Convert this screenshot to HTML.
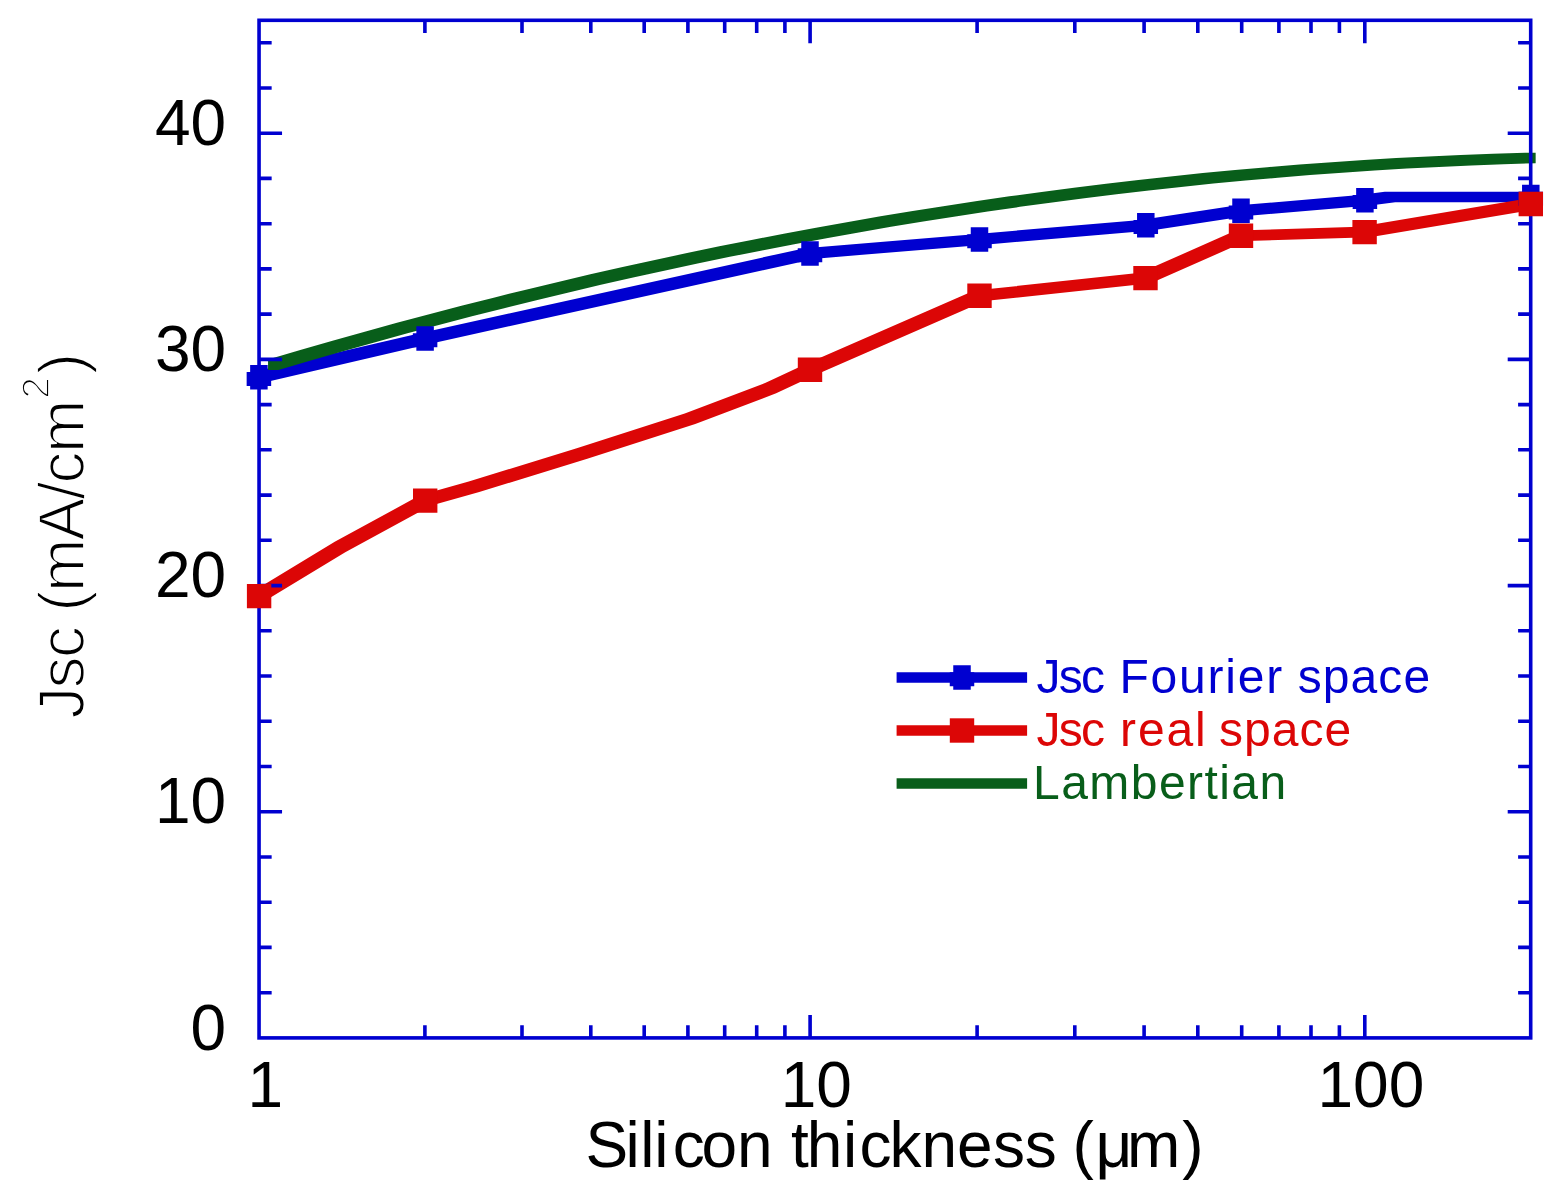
<!DOCTYPE html>
<html><head><meta charset="utf-8"><title>Jsc vs silicon thickness</title>
<style>html,body{margin:0;padding:0;background:#fff;width:1556px;height:1202px;overflow:hidden}svg{display:block}text{font-family:"Liberation Sans",Arial,sans-serif}</style>
</head><body>
<svg width="1556" height="1202" viewBox="0 0 1556 1202">
<rect width="1556" height="1202" fill="#fff"/>
<path d="M253.65 371.95L419.85 333.15L430.35 333.15L430.35 343.65L264.15 382.45L253.65 382.45ZM419.85 333.15L804.75 248.15L815.25 248.15L815.25 258.65L430.35 343.65L419.85 343.65ZM804.75 248.15L974.25 234.15L984.75 234.15L984.75 244.65L815.25 258.65L804.75 258.65ZM974.25 234.15L1140.55 219.95L1151.05 219.95L1151.05 230.45L984.75 244.65L974.25 244.65ZM1140.55 219.95L1235.75 205.55L1246.25 205.55L1246.25 216.05L1151.05 230.45L1140.55 230.45ZM1235.75 205.55L1359.65 195.05L1370.15 195.05L1370.15 205.55L1246.25 216.05L1235.75 216.05ZM1359.65 195.05L1384.75 191.65L1395.25 191.65L1395.25 202.15L1370.15 205.55L1359.65 205.55ZM1384.75 191.65L1536.05 191.65L1536.05 202.15L1384.75 202.15Z" fill="#0000D0"/>
<path d="M268.05 359.49L300.28 350.01L310.78 350.01L310.78 360.51L278.55 369.99L268.05 369.99ZM300.28 350.01L332.52 340.75L343.02 340.75L343.02 351.25L310.78 360.51L300.28 360.51ZM332.52 340.75L364.75 331.69L375.25 331.69L375.25 342.19L343.02 351.25L332.52 351.25ZM364.75 331.69L396.98 322.86L407.48 322.86L407.48 333.36L375.25 342.19L364.75 342.19ZM396.98 322.86L429.22 314.23L439.72 314.23L439.72 324.73L407.48 333.36L396.98 333.36ZM429.22 314.23L461.45 305.82L471.95 305.82L471.95 316.32L439.72 324.73L429.22 324.73ZM461.45 305.82L493.68 297.63L504.18 297.63L504.18 308.13L471.95 316.32L461.45 316.32ZM493.68 297.63L525.92 289.66L536.42 289.66L536.42 300.16L504.18 308.13L493.68 308.13ZM525.92 289.66L558.15 281.9L568.65 281.9L568.65 292.4L536.42 300.16L525.92 300.16ZM558.15 281.9L590.38 274.35L600.88 274.35L600.88 284.85L568.65 292.4L558.15 292.4ZM590.38 274.35L622.62 267.03L633.12 267.03L633.12 277.53L600.88 284.85L590.38 284.85ZM622.62 267.03L654.85 259.93L665.35 259.93L665.35 270.43L633.12 277.53L622.62 277.53ZM654.85 259.93L687.08 253.04L697.58 253.04L697.58 263.54L665.35 270.43L654.85 270.43ZM687.08 253.04L719.32 246.37L729.82 246.37L729.82 256.87L697.58 263.54L687.08 263.54ZM719.32 246.37L751.55 239.93L762.05 239.93L762.05 250.43L729.82 256.87L719.32 256.87ZM751.55 239.93L783.78 233.7L794.28 233.7L794.28 244.2L762.05 250.43L751.55 250.43ZM783.78 233.7L816.02 227.7L826.52 227.7L826.52 238.2L794.28 244.2L783.78 244.2ZM816.02 227.7L848.25 221.92L858.75 221.92L858.75 232.42L826.52 238.2L816.02 238.2ZM848.25 221.92L880.48 216.36L890.98 216.36L890.98 226.86L858.75 232.42L848.25 232.42ZM880.48 216.36L912.72 211.02L923.22 211.02L923.22 221.52L890.98 226.86L880.48 226.86ZM912.72 211.02L944.95 205.91L955.45 205.91L955.45 216.41L923.22 221.52L912.72 221.52ZM944.95 205.91L977.18 201.02L987.68 201.02L987.68 211.52L955.45 216.41L944.95 216.41ZM977.18 201.02L1009.42 196.35L1019.92 196.35L1019.92 206.85L987.68 211.52L977.18 211.52ZM1009.42 196.35L1041.65 191.91L1052.15 191.91L1052.15 202.41L1019.92 206.85L1009.42 206.85ZM1041.65 191.91L1073.88 187.7L1084.38 187.7L1084.38 198.2L1052.15 202.41L1041.65 202.41ZM1073.88 187.7L1106.12 183.71L1116.62 183.71L1116.62 194.21L1084.38 198.2L1073.88 198.2ZM1106.12 183.71L1138.35 179.95L1148.85 179.95L1148.85 190.45L1116.62 194.21L1106.12 194.21ZM1138.35 179.95L1170.58 176.42L1181.08 176.42L1181.08 186.92L1148.85 190.45L1138.35 190.45ZM1170.58 176.42L1202.82 173.11L1213.32 173.11L1213.32 183.61L1181.08 186.92L1170.58 186.92ZM1202.82 173.11L1235.05 170.04L1245.55 170.04L1245.55 180.54L1213.32 183.61L1202.82 183.61ZM1235.05 170.04L1267.28 167.19L1277.78 167.19L1277.78 177.69L1245.55 180.54L1235.05 180.54ZM1267.28 167.19L1299.52 164.57L1310.02 164.57L1310.02 175.07L1277.78 177.69L1267.28 177.69ZM1299.52 164.57L1331.75 162.18L1342.25 162.18L1342.25 172.68L1310.02 175.07L1299.52 175.07ZM1331.75 162.18L1363.98 160.02L1374.48 160.02L1374.48 170.52L1342.25 172.68L1331.75 172.68ZM1363.98 160.02L1396.22 158.09L1406.72 158.09L1406.72 168.59L1374.48 170.52L1363.98 170.52ZM1396.22 158.09L1428.45 156.4L1438.95 156.4L1438.95 166.9L1406.72 168.59L1396.22 168.59ZM1428.45 156.4L1460.68 154.94L1471.18 154.94L1471.18 165.44L1438.95 166.9L1428.45 166.9ZM1460.68 154.94L1492.92 153.71L1503.42 153.71L1503.42 164.21L1471.18 165.44L1460.68 165.44ZM1492.92 153.71L1525.15 152.71L1535.65 152.71L1535.65 163.21L1503.42 164.21L1492.92 164.21Z" fill="#085E1A"/>
<path d="M253.85 590.85L334.75 541.85L345.25 541.85L345.25 552.35L264.35 601.35L253.85 601.35ZM334.75 541.85L419.95 495.35L430.45 495.35L430.45 505.85L345.25 552.35L334.75 552.35ZM419.95 495.35L468.75 481.55L479.25 481.55L479.25 492.05L430.45 505.85L419.95 505.85ZM468.75 481.55L576.75 448.15L587.25 448.15L587.25 458.65L479.25 492.05L468.75 492.05ZM576.75 448.15L684.75 413.55L695.25 413.55L695.25 424.05L587.25 458.65L576.75 458.65ZM684.75 413.55L765.65 382.75L776.15 382.75L776.15 393.25L695.25 424.05L684.75 424.05ZM765.65 382.75L804.75 364.45L815.25 364.45L815.25 374.95L776.15 393.25L765.65 393.25ZM804.75 364.45L974.25 290.55L984.75 290.55L984.75 301.05L815.25 374.95L804.75 374.95ZM974.25 290.55L1140.25 272.85L1150.75 272.85L1150.75 283.35L984.75 301.05L974.25 301.05ZM1140.25 272.85L1235.75 230.55L1246.25 230.55L1246.25 241.05L1150.75 283.35L1140.25 283.35ZM1235.75 230.55L1359.35 226.85L1369.85 226.85L1369.85 237.35L1246.25 241.05L1235.75 241.05ZM1359.35 226.85L1525.55 198.75L1536.05 198.75L1536.05 209.25L1369.85 237.35L1359.35 237.35Z" fill="#DC0606"/>
<path d="M259.05 992.7h12.6M1530.7 992.7h-12.6M259.05 947.4h12.6M1530.7 947.4h-12.6M259.05 902.2h12.6M1530.7 902.2h-12.6M259.05 857.0h12.6M1530.7 857.0h-12.6M259.05 811.7h23.0M1530.7 811.7h-23.0M259.05 766.5h12.6M1530.7 766.5h-12.6M259.05 721.3h12.6M1530.7 721.3h-12.6M259.05 676.0h12.6M1530.7 676.0h-12.6M259.05 630.8h12.6M1530.7 630.8h-12.6M259.05 585.6h23.0M1530.7 585.6h-23.0M259.05 540.3h12.6M1530.7 540.3h-12.6M259.05 495.1h12.6M1530.7 495.1h-12.6M259.05 449.8h12.6M1530.7 449.8h-12.6M259.05 404.6h12.6M1530.7 404.6h-12.6M259.05 359.4h23.0M1530.7 359.4h-23.0M259.05 314.1h12.6M1530.7 314.1h-12.6M259.05 268.9h12.6M1530.7 268.9h-12.6M259.05 223.7h12.6M1530.7 223.7h-12.6M259.05 178.4h12.6M1530.7 178.4h-12.6M259.05 133.2h23.0M1530.7 133.2h-23.0M259.05 88.0h12.6M1530.7 88.0h-12.6M259.05 42.7h12.6M1530.7 42.7h-12.6M424.9 1037.9v-12.6M424.9 20.3v12.6M522.0 1037.9v-12.6M522.0 20.3v12.6M590.8 1037.9v-12.6M590.8 20.3v12.6M644.2 1037.9v-12.6M644.2 20.3v12.6M687.9 1037.9v-12.6M687.9 20.3v12.6M724.7 1037.9v-12.6M724.7 20.3v12.6M756.7 1037.9v-12.6M756.7 20.3v12.6M784.9 1037.9v-12.6M784.9 20.3v12.6M810.1 1037.9v-23.0M810.1 20.3v23.0M977.1 1037.9v-12.6M977.1 20.3v12.6M1074.8 1037.9v-12.6M1074.8 20.3v12.6M1144.1 1037.9v-12.6M1144.1 20.3v12.6M1197.8 1037.9v-12.6M1197.8 20.3v12.6M1241.7 1037.9v-12.6M1241.7 20.3v12.6M1278.9 1037.9v-12.6M1278.9 20.3v12.6M1311.0 1037.9v-12.6M1311.0 20.3v12.6M1339.4 1037.9v-12.6M1339.4 20.3v12.6M1364.8 1037.9v-23.0M1364.8 20.3v23.0" stroke="#0000D0" stroke-width="3.6" fill="none"/>
<rect x="259.05" y="20.3" width="1271.65" height="1017.6" stroke="#0000D0" stroke-width="3.6" fill="none"/>
<path d="M250.15 364.95H267.65V371.95H271.15V385.95H267.65V389.45H250.15V385.95H246.65V371.95H250.15ZM416.35 326.15H433.85V333.15H437.35V347.15H433.85V350.65H416.35V347.15H412.85V333.15H416.35ZM801.25 241.15H818.75V248.15H822.25V262.15H818.75V265.65H801.25V262.15H797.75V248.15H801.25ZM970.75 227.15H988.25V234.15H991.75V248.15H988.25V251.65H970.75V248.15H967.25V234.15H970.75ZM1137.05 212.95H1154.55V219.95H1158.05V233.95H1154.55V237.45H1137.05V233.95H1133.55V219.95H1137.05ZM1232.25 198.55H1249.75V205.55H1253.25V219.55H1249.75V223.05H1232.25V219.55H1228.75V205.55H1232.25ZM1356.15 188.05H1373.65V195.05H1377.15V209.05H1373.65V212.55H1356.15V209.05H1352.65V195.05H1356.15ZM1522.05 184.65H1539.55V191.65H1543.05V205.65H1539.55V209.15H1522.05V205.65H1518.55V191.65H1522.05Z" fill="#0000D0"/>
<path d="M246.9 583.9h24.4v24.4h-24.4ZM413.0 488.4h24.4v24.4h-24.4ZM797.8 357.5h24.4v24.4h-24.4ZM967.3 283.6h24.4v24.4h-24.4ZM1133.3 265.9h24.4v24.4h-24.4ZM1228.8 223.6h24.4v24.4h-24.4ZM1352.4 219.9h24.4v24.4h-24.4ZM1518.6 191.8h24.4v24.4h-24.4Z" fill="#DC0606"/>
<path d="M896.6 677.5H1027.1" stroke="#0000D0" stroke-width="10.5"/>
<path d="M953.25 665.25H970.75V672.25H974.25V686.25H970.75V689.75H953.25V686.25H949.75V672.25H953.25Z" fill="#0000D0"/>
<path d="M896.6 730.4H1027.1" stroke="#DC0606" stroke-width="10.5"/>
<path d="M949.8 718.3h24.4v24.4h-24.4Z" fill="#DC0606"/>
<path d="M896.6 783.5H1027.1" stroke="#085E1A" stroke-width="10.5"/>
<text y="692.9" font-size="48" fill="#0000D0" lengthAdjust="spacing"><tspan x="1036.4" textLength="68.5">Jsc</tspan> <tspan x="1119.4" textLength="162.8">Fourier</tspan> <tspan x="1297.8" textLength="132.3">space</tspan></text>
<text y="745.9" font-size="48" fill="#DC0606" lengthAdjust="spacing"><tspan x="1036.4" textLength="68.5">Jsc</tspan> <tspan x="1120.1" textLength="85.6">real</tspan> <tspan x="1219" textLength="132.3">space</tspan></text>
<text x="1033.1" y="799.1" font-size="48" fill="#085E1A" textLength="253" lengthAdjust="spacing">Lambertian</text>
<text x="226.1" y="1049.5" font-size="64" text-anchor="end" fill="#000">0</text>
<text x="226.1" y="823.3" font-size="64" text-anchor="end" fill="#000">10</text>
<text x="226.1" y="597.2" font-size="64" text-anchor="end" fill="#000">20</text>
<text x="226.1" y="371.0" font-size="64" text-anchor="end" fill="#000">30</text>
<text x="226.1" y="144.8" font-size="64" text-anchor="end" fill="#000">40</text>
<text x="247.6" y="1106.5" font-size="64" fill="#000">1</text>
<text x="780.7" y="1106.5" font-size="64" fill="#000">10</text>
<text x="1317.5" y="1106.5" font-size="64" fill="#000">100</text>
<text x="585.6 625.5 640.2 654.2 672.8 701.4 737.0 770.0 791.1 806.8 842.9 859.4 889.6 921.6 957.1 993.0 1024.8 1057.0 1072.6 1095.6 1127.0 1182.2" y="1166.8" font-size="64" fill="#000">Silicon thickness (μm)</text>
<g transform="translate(84.4 717.7) rotate(-90)" fill="#000" stroke="#fff" stroke-width="1.8">
<text x="-1" y="0" font-size="64" textLength="318.9" lengthAdjust="spacing">Jsc (mA/cm</text>
<text x="318.9" y="-35.9" font-size="39">2</text>
<text x="343.4" y="0" font-size="64">)</text>
</g>
</svg></body></html>
